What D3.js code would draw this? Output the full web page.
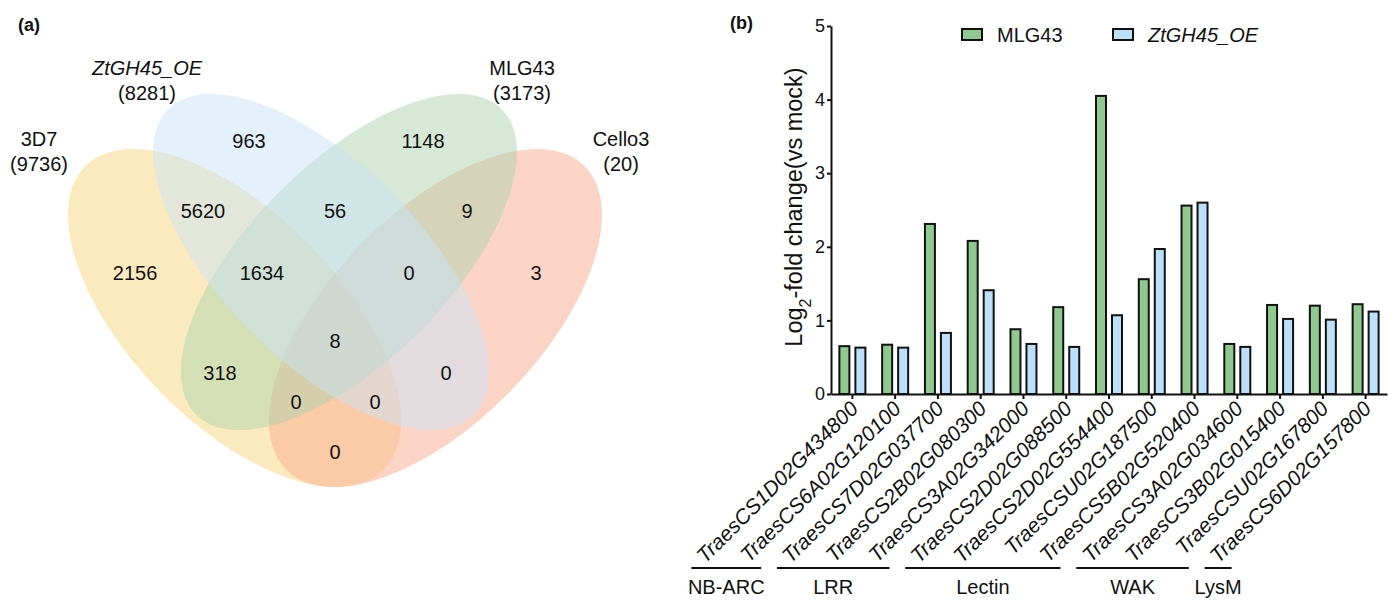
<!DOCTYPE html>
<html lang="en">
<head>
<meta charset="UTF-8">
<title>Venn + bar chart</title>
<script src="https://cdnjs.cloudflare.com/ajax/libs/d3/7.8.5/d3.min.js"></script>
<style>
  body { margin: 0; background: #fff; }
  text { font-family: Arial, "Liberation Sans", sans-serif; fill: #111; }
</style>
</head>
<body>
<svg id="fig" width="1392" height="601"></svg>
<script>
// ---------- panel (a) data ----------
var setNames = ["3D7", "ZtGH45_OE", "MLG43", "Cello3"];
var setTotals = [9736, 8281, 3173, 20];
var setColors = ["#f9d57f", "#c9e1f5", "#add3ad", "#f9a98d"];
// membership code: 3D7, ZtGH45_OE, MLG43, Cello3
var regionKeys = ["0100", "0010", "1100", "0110", "0011", "1000", "1110", "0111",
                  "0001", "1111", "1010", "0101", "1011", "1101", "1001"];
var regionCounts = [963, 1148, 5620, 56, 9, 2156, 1634, 0, 3, 8, 318, 0, 0, 0, 0];

// ---------- panel (b) data ----------
var genes = ["TraesCS1D02G434800", "TraesCS6A02G120100", "TraesCS7D02G037700",
             "TraesCS2B02G080300", "TraesCS3A02G342000", "TraesCS2D02G088500",
             "TraesCS2D02G554400", "TraesCSU02G187500", "TraesCS5B02G520400",
             "TraesCS3A02G034600", "TraesCS3B02G015400", "TraesCSU02G167800",
             "TraesCS6D02G157800"];
var mlg43 = [0.65, 0.67, 2.31, 2.08, 0.88, 1.18, 4.05, 1.56, 2.56, 0.68, 1.21, 1.20, 1.22];
var ztOE  = [0.63, 0.63, 0.83, 1.41, 0.68, 0.64, 1.07, 1.97, 2.60, 0.64, 1.02, 1.01, 1.12];
var seriesNames = ["MLG43", "ZtGH45_OE"];
var seriesColors = ["#8fc98f", "#bde0fa"];
var yTicks = [0, 1, 2, 3, 4, 5];
var groupNames = ["NB-ARC", "LRR", "Lectin", "WAK", "LysM"];
var groupFirst = [0, 2, 5, 9, 12];
var groupLast  = [1, 4, 8, 11, 12];

var svg = d3.select("#fig");

// ================= (a) Venn =================
var vx = d3.scaleLinear().domain([0, 1]).range([35, 635]);
var vy = d3.scaleLinear().domain([0, 1]).range([600, 0]);
var unit = vx(1) - vx(0);

// ellipse layout in unit space (centre, semi-axes, rotation)
var ellipses = [
  {set: 0, cx: 0.3325, cy: 0.47,   rx: 0.3547, ry: 0.1747, rot: 45.7},
  {set: 3, cx: 0.6675, cy: 0.47,   rx: 0.3547, ry: 0.1747, rot: -45.7},
  {set: 2, cx: 0.5233, cy: 0.5633, rx: 0.36,   ry: 0.165,  rot: -45},
  {set: 1, cx: 0.4767, cy: 0.5633, rx: 0.36,   ry: 0.165,  rot: 45}
];
var venn = svg.append("g");
venn.selectAll("ellipse").data(ellipses).enter().append("ellipse")
  .attr("cx", function(d) { return vx(d.cx); })
  .attr("cy", function(d) { return vy(d.cy); })
  .attr("rx", function(d) { return d.rx * unit; })
  .attr("ry", function(d) { return d.ry * unit; })
  .attr("transform", function(d) { return "rotate(" + d.rot + "," + vx(d.cx) + "," + vy(d.cy) + ")"; })
  .attr("fill", function(d) { return setColors[d.set]; })
  .attr("fill-opacity", 0.5);

// where each region count sits (unit space)
var regionAt = {
  "0100": [0.3567, 0.765], "0010": [0.6467, 0.765],
  "1100": [0.28, 0.6483],  "0110": [0.5, 0.6483],  "0011": [0.72, 0.6483],
  "1000": [0.1667, 0.545], "1110": [0.3783, 0.545], "0111": [0.6233, 0.545], "0001": [0.835, 0.545],
  "1111": [0.5, 0.4317],
  "1010": [0.3083, 0.3783], "0101": [0.685, 0.3783],
  "1011": [0.435, 0.33], "1101": [0.5667, 0.33],
  "1001": [0.5, 0.2467]
};
venn.selectAll("text.count").data(regionKeys).enter().append("text")
  .attr("class", "count")
  .attr("x", function(k) { return vx(regionAt[k][0]); })
  .attr("y", function(k) { return vy(regionAt[k][1]); })
  .attr("text-anchor", "middle")
  .attr("dominant-baseline", "central")
  .style("font-size", "20px")
  .text(function(k, i) { return regionCounts[i]; });

var setLabelAt = [[0.0067, 0.7683], [0.1867, 0.8867], [0.8117, 0.8867], [0.9767, 0.7683]];
setNames.forEach(function(n, i) {
  venn.append("text")
    .attr("x", vx(setLabelAt[i][0]))
    .attr("y", vy(setLabelAt[i][1]))
    .attr("text-anchor", "middle")
    .attr("dominant-baseline", "central")
    .style("font-size", "20px")
    .style("font-style", i === 1 ? "italic" : "normal")
    .text(n);
  venn.append("text")
    .attr("x", vx(setLabelAt[i][0]))
    .attr("y", vy(setLabelAt[i][1]) + 25)
    .attr("text-anchor", "middle")
    .attr("dominant-baseline", "central")
    .style("font-size", "20px")
    .text("(" + setTotals[i] + ")");
});

svg.append("text").attr("x", 18).attr("y", 31)
  .style("font-size", "18px").style("font-weight", "bold").text("(a)");

// ================= (b) bars =================
var plotL = 831, plotR = 1387, plotT = 26, plotB = 394;
var x = d3.scaleBand().domain(genes).range([plotL, plotR]).padding(0);
var xs = d3.scaleBand().domain(seriesNames).range([-14, 14]).paddingInner(0.25);
var y = d3.scaleLinear().domain([0, 5]).range([plotB, plotT]);
var series = [mlg43, ztOE];

var bars = svg.append("g");
series.forEach(function(vals, s) {
  bars.selectAll("rect.s" + s).data(vals).enter().append("rect")
    .attr("class", "s" + s)
    .attr("x", function(d, i) { return x(genes[i]) + x.bandwidth() / 2 + xs(seriesNames[s]) + 1; })
    .attr("y", function(d) { return y(d); })
    .attr("width", xs.bandwidth() - 2)
    .attr("height", function(d) { return y(0) - y(d); })
    .attr("fill", seriesColors[s])
    .attr("stroke", "#111")
    .attr("stroke-width", 2);
});

var yAxis = svg.append("g").attr("transform", "translate(" + plotL + ",0)")
  .call(d3.axisLeft(y).tickValues(yTicks).tickFormat(d3.format("d")).tickSize(4).tickSizeOuter(0).tickPadding(2));
var xAxis = svg.append("g").attr("transform", "translate(0," + plotB + ")")
  .call(d3.axisBottom(x).tickSize(5).tickSizeOuter(0).tickFormat(""));
[yAxis, xAxis].forEach(function(a) {
  a.select(".domain").attr("stroke", "#111").attr("stroke-width", 2);
  a.selectAll(".tick line").attr("stroke", "#111").attr("stroke-width", 2);
});
yAxis.selectAll(".tick text").style("font-size", "18px").attr("fill", "#111")
  .style("font-family", "Arial, 'Liberation Sans', sans-serif");

// rotated gene names
svg.append("g").selectAll("text").data(genes).enter().append("text")
  .attr("transform", function(g) {
    return "translate(" + (x(g) + x.bandwidth() / 2 + 7) + "," + (plotB + 16) + ") rotate(-45)";
  })
  .attr("text-anchor", "end")
  .style("font-size", "21px")
  .style("font-style", "italic")
  .text(function(g) { return g; });

// domain group brackets
var grp = svg.append("g");
groupNames.forEach(function(n, i) {
  var x0 = x(genes[groupFirst[i]]) + x.bandwidth() / 2 - 161;
  var x1 = x(genes[groupLast[i]]) + x.bandwidth() / 2 - 134;
  grp.append("line").attr("x1", x0).attr("x2", x1).attr("y1", 568).attr("y2", 568)
    .attr("stroke", "#111").attr("stroke-width", 2);
  grp.append("text").attr("x", (x0 + x1) / 2).attr("y", 594)
    .attr("text-anchor", "middle").style("font-size", "20px").text(n);
});

// y title
var yt = svg.append("text")
  .attr("transform", "translate(802,207) rotate(-90)")
  .attr("text-anchor", "middle")
  .style("font-size", "23.5px");
yt.append("tspan").text("Log");
yt.append("tspan").attr("baseline-shift", "sub").style("font-size", "16px").text("2");
yt.append("tspan").text("-fold change(vs mock)");

// legend
var lg = svg.append("g");
var legendX = [962, 1113];
seriesNames.forEach(function(n, i) {
  lg.append("rect").attr("x", legendX[i]).attr("y", 29).attr("width", 20).attr("height", 11)
    .attr("fill", seriesColors[i]).attr("stroke", "#111").attr("stroke-width", 2);
  lg.append("text").attr("x", legendX[i] + 35).attr("y", 42)
    .style("font-size", "20px").style("font-style", i === 1 ? "italic" : "normal").text(n);
});

svg.append("text").attr("x", 730).attr("y", 29)
  .style("font-size", "18px").style("font-weight", "bold").text("(b)");
</script>
</body>
</html>
